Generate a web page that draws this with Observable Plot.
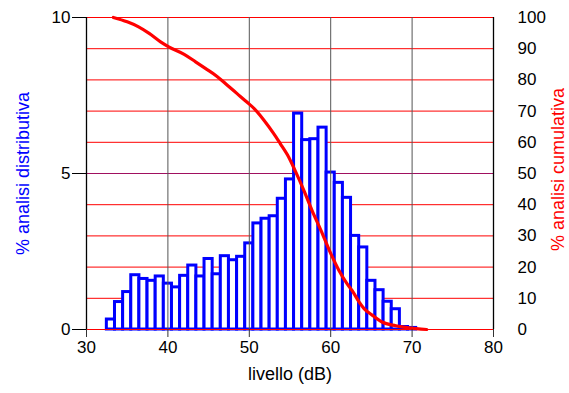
<!DOCTYPE html>
<html>
<head>
<meta charset="utf-8">
<script src="https://cdn.jsdelivr.net/npm/d3@7"></script>
<script src="https://cdn.jsdelivr.net/npm/@observablehq/plot@0.6"></script>
<style>
  html, body { margin: 0; padding: 0; background: #fff; }
  #chart { width: 569px; height: 393px; }
</style>
</head>
<body>
<div id="chart"></div>
<script>
// Distribution (% per 1 dB class), class centres in dB
const levels = [33,34,35,36,37,38,39,40,41,42,43,44,45,46,47,48,49,50,51,52,53,54,55,56,57,58,59,60,61,62,63,64,65,66,67,68,69,70];
const distrib = [0.32,0.88,1.2,1.74,1.62,1.56,1.70,1.47,1.35,1.72,2.05,1.70,2.26,1.77,2.35,2.22,2.33,2.76,3.40,3.55,3.63,4.19,4.81,6.92,6.07,6.10,6.47,5.03,4.70,4.22,3.0,2.63,1.56,1.26,0.89,0.65,0.08,0.05];

// Cumulative curve (% exceeding)
const cumLevel = [33.3,35.0,36.4,37.7,39.1,40.1,42.0,43.4,44.6,46.0,47.3,48.5,49.7,50.6,51.8,53.0,53.8,54.7,55.7,56.7,57.7,58.8,60.0,61.0,62.0,62.6,63.5,64.1,65.1,66.3,68.0,69.6,71.8];
const cumPct   = [100,98.6,97.0,94.9,92.2,90.6,88.2,85.8,83.7,81.2,78.3,75.6,72.9,70.8,67.1,62.8,59.6,55.9,50.5,44.6,38.2,31.8,24.4,19.0,14.7,12.6,8.8,6.7,4.6,2.4,1.2,0.5,0.0];

// Tick labels
const xTicks = [30,40,50,60,70,80];
const leftTicks = [0,5,10];
const rightTicks = [0,10,20,30,40,50,60,70,80,90,100];
const innerXGrid = [40,50,60,70];

const bars = levels.map((l, i) => ({level: l, value: distrib[i]}));
const curve = cumLevel.map((l, i) => ({level: l, cum: cumPct[i]}));
const redGrid = rightTicks.filter(v => v !== 50);

const FONT = "'Liberation Sans', Arial, Helvetica, sans-serif";

const chart = Plot.plot({
  width: 569,
  height: 393,
  marginLeft: 86,
  marginRight: 76,
  marginTop: 17,
  marginBottom: 64,
  style: {fontFamily: FONT, fontSize: "17px", color: "#000", background: "#fff"},
  x: {domain: [30, 80]},
  y: {domain: [0, 10]},
  marks: [
    // horizontal red grid (right scale units)
    Plot.ruleY(redGrid, {y: d => d / 10, x1: 30, x2: 80, stroke: "#ff0000", strokeWidth: 1}),
    Plot.ruleY([50], {y: d => d / 10, x1: 30, x2: 80, stroke: "#a01060", strokeWidth: 1}),
    // distribution bars
    Plot.rectY(bars, {
      x1: d => d.level - 0.5, x2: d => d.level + 0.5, y1: 0, y2: "value",
      fill: "#fff", stroke: "#0000ff", strokeWidth: 3
    }),
    // vertical grid
    Plot.ruleX(innerXGrid, {y1: 0, y2: 10, stroke: "#555", strokeWidth: 1}),
    // frame sides
    Plot.ruleX([30, 80], {y1: 0, y2: 10, stroke: "#000", strokeWidth: 1.3}),
    Plot.ruleY([0], {x1: 30, x2: 80, stroke: "#ff0000", strokeWidth: 1}),
    // cumulative curve
    Plot.line(curve, {x: "level", y: d => d.cum / 10, stroke: "#ff0000", strokeWidth: 3.2, curve: "monotone-x"}),
    // axes
    Plot.axisX({ticks: xTicks, tickSize: 8, tickPadding: 3, label: null, stroke: "#333", fontSize: 17}),
    Plot.axisY({anchor: "left", ticks: leftTicks, tickSize: 14, tickPadding: 2, label: null, fontSize: 17}),
    Plot.axisY({anchor: "right", ticks: rightTicks.map(v => v / 10), tickFormat: d => String(Math.round(d * 10)), tickSize: 0, tickPadding: 24, label: null, fontSize: 17}),
    // titles
    Plot.text(["% analisi distributiva"], {frameAnchor: "left", textAnchor: "middle", dx: -63, rotate: -90, fill: "#0000ff", fontSize: 18}),
    Plot.text(["% analisi cumulativa"], {frameAnchor: "right", textAnchor: "middle", dx: 65, dy: -4, rotate: -90, fill: "#ff0000", fontSize: 18}),
    Plot.text(["livello (dB)"], {frameAnchor: "bottom", textAnchor: "middle", dy: 50, fill: "#000", fontSize: 18})
  ]
});
document.getElementById("chart").appendChild(chart);
</script>
</body>
</html>
